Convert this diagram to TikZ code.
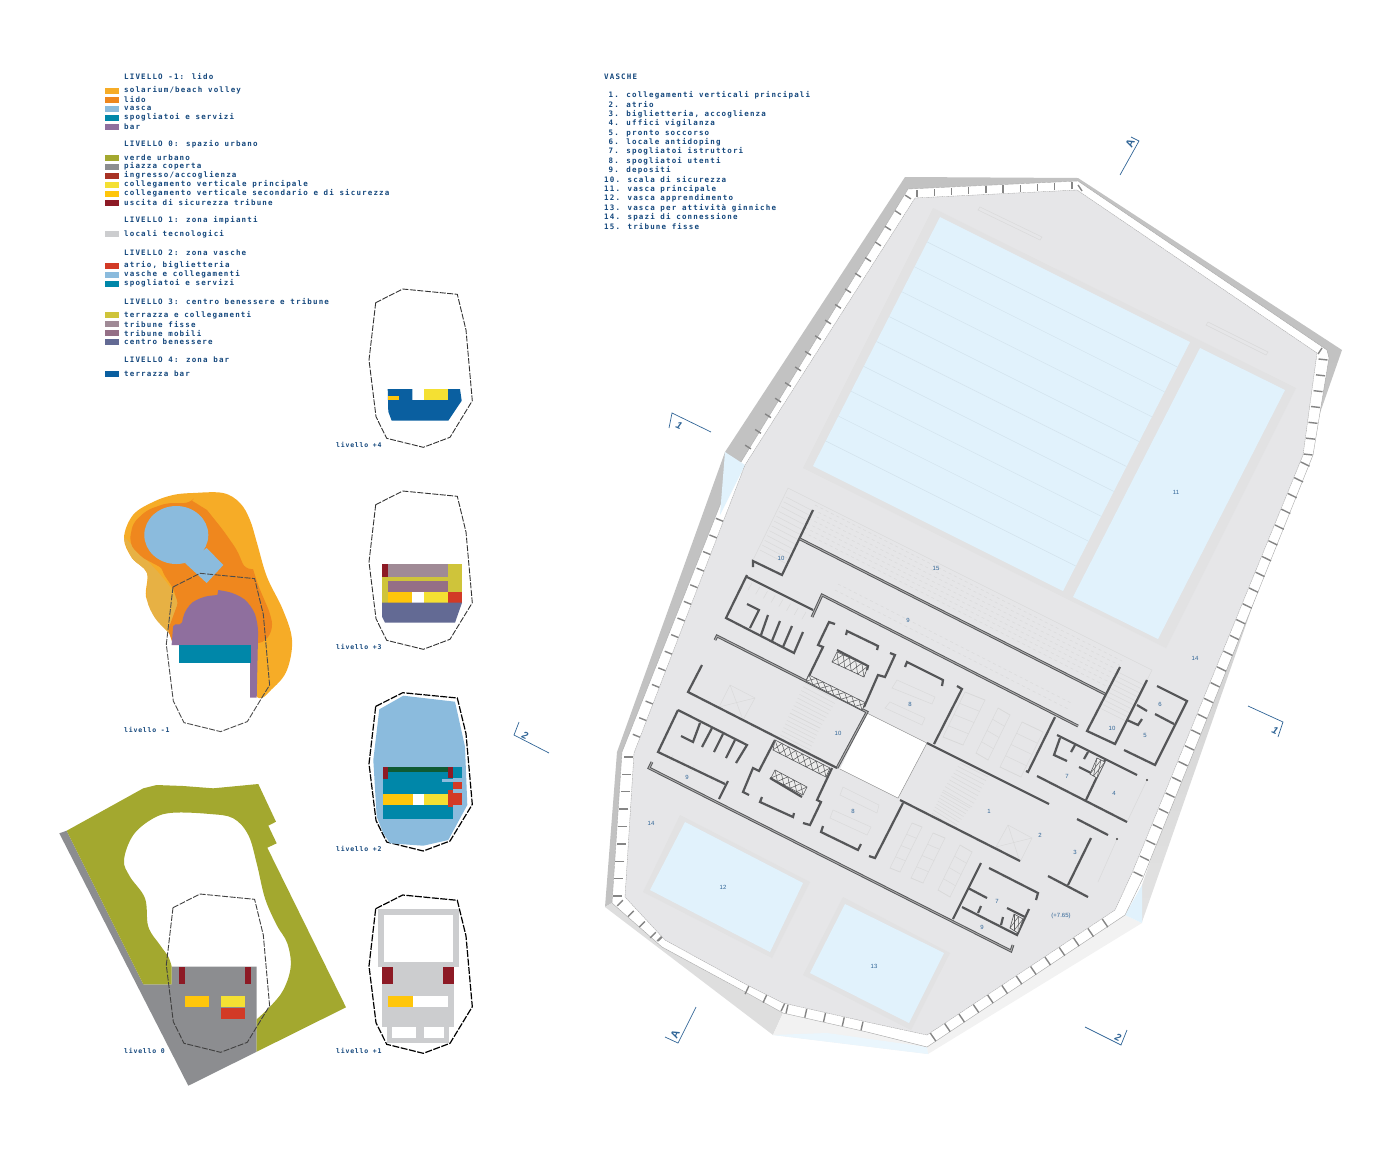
\documentclass[tikz,border=0pt]{standalone}
\usepackage{fontspec}
\setsansfont{Liberation Sans}
\newfontfamily\legfont[LetterSpace=15.4]{DejaVu Sans Mono}
\newfontfamily\lvlfont[LetterSpace=12]{DejaVu Sans Mono}
\usetikzlibrary{calc,positioning}

\definecolor{inkblue}{HTML}{14477C}
\definecolor{secblue}{HTML}{2F6496}
\definecolor{solarium}{HTML}{F6AC27}
\definecolor{solariumb}{HTML}{E7B144}
\definecolor{lido}{HTML}{EF871E}
\definecolor{vasca}{HTML}{8BBBDD}
\definecolor{spogliatoi}{HTML}{0087A9}
\definecolor{barlila}{HTML}{8F6F9E}
\definecolor{verde}{HTML}{A3A82F}
\definecolor{piazza}{HTML}{8C8D90}
\definecolor{ingresso}{HTML}{A83224}
\definecolor{collgiallo}{HTML}{F4E033}
\definecolor{collarancio}{HTML}{FFC60B}
\definecolor{uscita}{HTML}{8D1A25}
\definecolor{tecnici}{HTML}{CCCDCF}
\definecolor{atrio}{HTML}{D23A26}
\definecolor{terrazza}{HTML}{CFC43A}
\definecolor{fisse}{HTML}{A08A96}
\definecolor{mobili}{HTML}{956F86}
\definecolor{benessere}{HTML}{636A94}
\definecolor{barblu}{HTML}{0A5FA0}
\definecolor{pinegreen}{HTML}{0F5A33}
\definecolor{floorgrey}{HTML}{E6E6E8}
\definecolor{framegrey}{HTML}{E2E2E3}
\definecolor{poolblue}{HTML}{E1F2FC}
\definecolor{wallgrey}{HTML}{555658}

\tikzset{
	legtext/.style={anchor=west, inner sep=0pt, text=inkblue, font=\fontsize{7.5}{9}\legfont\bfseries}, % all the small spaced text
	lvltext/.style={anchor=west, inner sep=0pt, text=inkblue, font=\fontsize{6.5}{8}\lvlfont\bfseries},
	swatch/.style={inner sep=0pt, minimum width=14pt, minimum height=6pt},
	footline/.style={draw=black!80, line width=.9pt, dash pattern=on 6pt off 1.5pt},
	footbold/.style={draw=black, line width=1.2pt, dash pattern=on 7pt off 1.5pt},
	band/.style={fill=white, draw=gray!70, line width=.4pt},
	slat/.style={draw=black!48, line width=1.4pt},
	wall/.style={draw=wallgrey, line width=2.2pt},
	wallb/.style={draw=wallgrey, line width=.95pt, double=gray!65, double distance=.9pt},
	fine/.style={draw=black!15, line width=.45pt},
	lane/.style={draw=black!6!poolblue, line width=.5pt},
	num/.style={inner sep=0pt, text=secblue, font=\fontsize{6}{7}\sffamily},
	secline/.style={draw=secblue, line width=.7pt},
	seclabel/.style={inner sep=0pt, text=secblue, font=\fontsize{10}{11}\sffamily\bfseries\itshape},
	seclabelA/.style={inner sep=0pt, text=secblue, font=\fontsize{11}{12}\sffamily\bfseries},
}

% the footprint of the building, repeated next to each level
\def\footprint{(375.7,302.7) -- (402.7,289) -- (457.3,294.3) -- (466,330) -- (472.3,400.7) -- (450,437.3) -- (423.3,447.3) -- (386.7,438.3) -- (376,416.7) -- (369,360) -- cycle}

% lines across two edges: style, first edge, second edge, intervals
\newcommand{\rungs}[6]{
	\foreach \i in {0,...,#6}
		\draw[#1] ($#2!{\i/#6}!#3$) -- ($#4!{\i/#6}!#5$);
}
% cross-braced stair shaft: corners a b c d, number of bays
\newcommand{\xstrip}[5]{
	\draw[draw=wallgrey, line width=.6pt, fill=white!85!gray] #1 -- #2 -- #3 -- #4 -- cycle;
	\foreach \i in {1,...,#5} {
		\draw[draw=wallgrey, line width=.5pt] ($#1!{(\i-1)/#5}!#2$) -- ($#4!{\i/#5}!#3$);
		\draw[draw=wallgrey, line width=.5pt] ($#1!{\i/#5}!#2$) -- ($#4!{(\i-1)/#5}!#3$);
	}
}
\newcommand{\legrow}[4]{
	\node[swatch, fill=#3] (#1sw) at (112,#2) {};
	\node[legtext] (#1) at (124,#2) {#4};
}

\begin{document}
\begin{tikzpicture}[x=1pt, y=-1pt]
	\useasboundingbox (0,0) rectangle (1400,1160);

	% legend
	\node[legtext] (titleA) at (124,76.5) {LIVELLO -1: lido};
	\legrow{solar}{90.5}{solarium}{solarium/beach volley}
	\legrow{lidoA}{99.5}{lido}{lido}
	\legrow{vascaA}{108.5}{vasca}{vasca}
	\legrow{spogA}{117.5}{spogliatoi}{spogliatoi e servizi}
	\legrow{barA}{126.5}{barlila}{bar}
	\node[legtext] (titleB) at (124,144.5) {LIVELLO 0: spazio urbano};
	\legrow{verdeB}{157.5}{verde}{verde urbano}
	\legrow{piazzaB}{166.5}{piazza}{piazza coperta}
	\legrow{ingrB}{175.5}{ingresso}{ingresso/accoglienza}
	\legrow{collB}{184.5}{collgiallo}{collegamento verticale principale}
	\legrow{collC}{193.5}{collarancio}{collegamento verticale secondario e di sicurezza}
	\legrow{uscB}{202.5}{uscita}{uscita di sicurezza tribune}
	\node[legtext] (titleC) at (124,220.5) {LIVELLO 1: zona impianti};
	\legrow{tecC}{234}{tecnici}{locali tecnologici}
	\node[legtext] (titleD) at (124,252.5) {LIVELLO 2: zona vasche};
	\legrow{atrD}{265.5}{atrio}{atrio, biglietteria}
	\legrow{vasD}{274.5}{vasca}{vasche e collegamenti}
	\legrow{spoD}{283.5}{spogliatoi}{spogliatoi e servizi}
	\node[legtext] (titleE) at (124,301.5) {LIVELLO 3: centro benessere e tribune};
	\legrow{terE}{315}{terrazza}{terrazza e collegamenti}
	\legrow{fisE}{324}{fisse}{tribune fisse}
	\legrow{mobE}{333}{mobili}{tribune mobili}
	\legrow{benE}{342}{benessere}{centro benessere}
	\node[legtext] (titleF) at (124,359.5) {LIVELLO 4: zona bar};
	\legrow{barF}{373.5}{barblu}{terrazza bar}

	% room list
	\node[legtext] (listhead) at (604,76.5) {VASCHE};
	\node[legtext] (room1) at (604,95.5) {\phantom{0}1. collegamenti verticali principali};
	\node[legtext] (room2) at (604,104.9) {\phantom{0}2. atrio};
	\node[legtext] (room3) at (604,114.2) {\phantom{0}3. biglietteria, accoglienza};
	\node[legtext] (room4) at (604,123.6) {\phantom{0}4. uffici vigilanza};
	\node[legtext] (room5) at (604,133) {\phantom{0}5. pronto soccorso};
	\node[legtext] (room6) at (604,142.3) {\phantom{0}6. locale antidoping};
	\node[legtext] (room7) at (604,151.7) {\phantom{0}7. spogliatoi istruttori};
	\node[legtext] (room8) at (604,161) {\phantom{0}8. spogliatoi utenti};
	\node[legtext] (room9) at (604,170.4) {\phantom{0}9. depositi};
	\node[legtext] (room10) at (604,179.8) {10. scala di sicurezza};
	\node[legtext] (room11) at (604,189.2) {11. vasca principale};
	\node[legtext] (room12) at (604,198.5) {12. vasca apprendimento};
	\node[legtext] (room13) at (604,207.9) {13. vasca per attività ginniche};
	\node[legtext] (room14) at (604,217.3) {14. spazi di connessione};
	\node[legtext] (room15) at (604,226.7) {15. tribune fisse};

	% level +4
	\draw[footline] \footprint;
	\fill[barblu] (387.7,389) -- (412.3,389) -- (412.3,400) -- (424,400) -- (424,389) -- (460,389) -- (461.7,400.7) -- (448.3,420.7) -- (391.7,420.7) -- (388.3,411.7) -- cycle;
	\fill[collgiallo] (424,389) rectangle (448.3,400);
	\fill[collarancio] (387.7,396) rectangle (399,400);
	\node[lvltext] (lvlfour) at (336,445) {livello +4};

	% level +3
	\draw[footline, shift={(0,202)}] \footprint;
	\fill[terrazza] (382,564) rectangle (462,602.7);
	\fill[uscita] (382,564) rectangle (388,577.3);
	\fill[fisse] (388,564) rectangle (448.3,577.3);
	\fill[mobili] (388,580.7) rectangle (448.3,591.7);
	\fill[collarancio] (388,591.7) rectangle (412.3,602.7);
	\fill[white] (412.3,591.7) rectangle (424,602.7);
	\fill[collgiallo] (424,591.7) rectangle (448.3,602.7);
	\fill[atrio] (448.3,591.7) rectangle (462,602.7);
	\fill[benessere] (382,602.7) -- (462,602.7) -- (455,622.7) -- (385,622.7) -- (382,616.7) -- cycle;
	\node[lvltext] (lvlthree) at (336,647) {livello +3};

	% level +2
	\draw[footbold, shift={(0,403.7)}] \footprint;
	\fill[vasca] (379.3,709.3) -- (403.3,695.7) -- (455,701.7) -- (465,746.7) -- (467.3,805) -- (448.3,840) -- (423.3,845.7) -- (390,843.3) -- (383.3,833.3) -- (376.7,816.7) -- (373.3,760) -- cycle;
	\fill[spogliatoi] (382.7,766.7) rectangle (453.3,819.3);
	\fill[spogliatoi] (453.3,766.7) rectangle (461.7,778.3);
	\fill[pinegreen] (388,766.7) rectangle (448.3,771.7);
	\fill[uscita] (382.7,766.7) rectangle (388,779);
	\fill[uscita] (448.3,766.7) rectangle (453.3,778.3);
	\fill[vasca] (442.3,779) rectangle (461.7,781.7);
	\fill[vasca] (453.3,781.7) rectangle (461.7,793.3);
	\fill[atrio] (453.3,782.3) rectangle (461.7,789.3);
	\fill[atrio] (448.3,790) rectangle (453.3,807.3);
	\fill[atrio] (453.3,793.3) rectangle (461.7,805);
	\fill[collarancio] (382.7,794) rectangle (412.7,805);
	\fill[white] (412.7,794) rectangle (424,805);
	\fill[collgiallo] (424,794) rectangle (448.3,805);
	\node[lvltext] (lvltwo) at (336,849) {livello +2};

	% level +1
	\draw[footbold, shift={(0,606)}] \footprint;
	\fill[tecnici] (377.7,909) rectangle (459,967.3);
	\fill[white] (384,915) rectangle (453.3,962);
	\fill[tecnici] (382,967.3) rectangle (454,1027.3);
	\fill[tecnici] (387,1027.3) rectangle (449,1042.7);
	\fill[white] (392,1027.3) rectangle (416,1037.7);
	\fill[white] (424,1027.3) rectangle (444,1037.7);
	\fill[uscita] (382,967.3) rectangle (393.3,984);
	\fill[uscita] (443.3,967.3) rectangle (454,984);
	\fill[collarancio] (388,995.7) rectangle (412.7,1007.3);
	\fill[white] (412.7,995.7) rectangle (448.3,1007.3);
	\node[lvltext] (lvlone) at (336,1051) {livello +1};

	% level -1
	\fill[solarium] plot[smooth cycle, tension=.6] coordinates {(124,538) (133,515) (153,502) (173,495) (193,493) (223,493) (240,503) (250,520) (257,543) (267,577) (283,610) (292,640) (287,670) (273,688) (257,697) (240,660) (190,640) (170,620) (147,600) (147,573) (132,558)};
	\fill[white] (165,645) rectangle (250,700);
	\fill[solariumb] plot[smooth cycle, tension=.5] coordinates {(124,538) (132,558) (147,573) (147,600) (155,618) (168,632) (178,640) (180,610) (172,590) (158,572) (135,548)};
	\fill[lido, rounded corners=6pt] (130,538) -- (133,523) -- (147,510) -- (167,503) -- (190,503) [sharp corners] -- (192,500.7) -- (207,510) [rounded corners=6pt] -- (223,530) -- (237,550) -- (245,569) [sharp corners] -- (253,569) [rounded corners=6pt] -- (258,585) -- (270,613) -- (273,627) -- (267,640) -- (257,644) [sharp corners] -- (173,644) [rounded corners=3pt] -- (168,630) -- (178,603) -- (173,588) -- (163,573) -- (162,568) -- (143,558) -- (132,547) -- cycle;
	\fill[vasca] (176.3,535) ellipse [x radius=32, y radius=29];
	\fill[vasca] (206.7,548) -- (223.3,565) -- (206.7,583) -- (185,563) -- cycle;
	\fill[barlila, rounded corners=2pt] (171.7,644) -- (173.3,624.3) -- (181.7,624.3) [rounded corners=10pt] -- (185,608) -- (200,596.7) [sharp corners] -- (217.3,595) -- (218.3,590) [rounded corners=10pt] -- (236.7,593.3) -- (251.7,605) -- (258.3,623.3) [sharp corners] -- (256.7,697.7) -- (250,697.7) -- (250,645) -- (171.7,645) -- cycle;
	\fill[spogliatoi] (179,645) rectangle (250.7,662.7);
	\draw[footline, draw=black!70, shift={(-202.7,284.3)}] \footprint;
	\node[lvltext] (lvlminus) at (124,730) {livello -1};

	% level 0
	\fill[piazza] (59.3,833.3) -- (66.7,830.7) -- (143.3,984.3) -- (171.7,984.3) -- (171.7,966.7) -- (256.7,966.7) -- (256.7,1051.7) -- (188.3,1085.7) -- cycle;
	\fill[verde] (66.7,830.7) -- (143.3,788.3) -- (156.7,785) -- (183.3,786) -- (213.3,788.3) -- (258.3,784) -- (276,821.7) -- (268.3,825.7) -- (276.7,843.3) -- (267.3,847.7) -- (346,1007.3) -- (256.7,1051.7) -- (256.7,1019.3) -- plot[smooth, tension=.6] coordinates {(256.7,1019.3) (270,1006.7) (283.3,990) (290.7,966.7) (287.3,943.3) (276.7,925) (265,898.3) (256.7,863.3) (248.3,835) (233.3,818.3) (210,814) (173.3,812.7) (153.3,818.3) (133.3,835) (124,860) (130,876.7) (145,898.3) (148.3,926.7) (160,945) (168.3,956.7) (171.7,966.7)} -- (171.7,984.3) -- (143.3,984.3) -- cycle;
	\fill[uscita] (179,966.7) rectangle (185,984.3);
	\fill[uscita] (245.3,966.7) rectangle (251,984.3);
	\fill[collarancio] (185,996) rectangle (209.3,1007.3);
	\fill[collgiallo] (221,996) rectangle (245.3,1007.3);
	\fill[atrio] (221,1008) rectangle (245.3,1019);
	\draw[footline, draw=black!75, shift={(-202.7,605)}] \footprint;
	\node[lvltext] (lvlzero) at (124,1051) {livello 0};

	% plan: outer wedges
	\fill[black!24] (905,177) -- (1078,178) -- (1342,350) -- (1327,358) -- (1078,181) -- (908,189) -- (730,480) -- (622,752) -- (612,903) -- (605,907) -- (617,752) -- (725,452) -- cycle;
	\shade[top color=black!24, bottom color=black!11] (1342,350) -- (1142,922) -- (1142,885) -- (1327,352) -- cycle;
	\fill[black!5] (1142,923) -- (928,1054) -- (927,1047) -- (1125,915) -- cycle;
	\fill[black!13] (605,907) -- (773,1035) -- (783,1013) -- (662,947) -- (612,903) -- cycle;
	\fill[black!5] (773,1035) -- (783,1013) -- (867,1032) -- (927,1047) -- (928,1054) -- cycle;
	\fill[poolblue!70] (773,1035) -- (827,1033) -- (927,1047) -- (928,1054) -- cycle;
	\fill[poolblue] (1142,885) -- (1142,923) -- (1125,915) -- cycle;

	% plan: facade band and slats
	\draw[band] (908,189) -- (1078,181) -- (1327,350) -- (1329,358) -- (1313,455) -- (1143,878) -- (1125,915) -- (927,1047) -- (867,1032) -- (783,1013) -- (747,993) -- (662,947) -- (612,903) -- (622,752) -- (730,480) -- cycle;
	\fill[poolblue] (725,452) -- (745,465) -- (720,515) -- cycle;
	\rungs{slat}{(917,196.7)}{(1072,189.3)}{(917,189.5)}{(1072,182)}{9}
	\rungs{slat}{(910.9,198.9)}{(750.9,448.9)}{(905.1,195.1)}{(745.1,445.1)}{16}
	\rungs{slat}{(724.2,521.7)}{(641.2,737.7)}{(715.8,518.3)}{(632.8,734.3)}{13}
	\rungs{slat}{(632.5,757)}{(621.5,896)}{(623.5,757)}{(612.5,896)}{8}
	\rungs{slat}{(622.8,900.2)}{(655.8,932.2)}{(617.2,905.8)}{(650.2,937.8)}{3}
	\rungs{slat}{(661.8,936.2)}{(662.8,936.2)}{(657.2,941)}{(658.2,941)}{1}
	\rungs{slat}{(748.9,985.9)}{(784.9,1002.9)}{(745.1,994.1)}{(781.1,1011.1)}{2}
	\rungs{slat}{(788,1004.6)}{(863,1021.6)}{(786,1013.4)}{(861,1030.4)}{4}
	\rungs{slat}{(930.2,1032.9)}{(1102.2,918.9)}{(935.8,1041.1)}{(1107.8,927.1)}{12}
	\rungs{slat}{(1133.5,871.8)}{(1300.5,461.8)}{(1142.5,876.2)}{(1309.5,466.2)}{26}
	\rungs{slat}{(1303.5,454)}{(1318.5,359)}{(1312.5,455)}{(1327.5,360)}{6}
	\draw[slat] (1082,191) -- (1078,185);
	\draw[slat] (1318,354) -- (1322,348);

	% plan: floor and pools
	\fill[floorgrey] (915,198) -- (1077,190) -- (1317,353) -- (1303,455) -- (1132,873) -- (1115,910) -- (927,1035) -- (867,1022) -- (783,1003) -- (747,985) -- (665,940) -- (625,897) -- (634,753) -- (745,465) -- cycle;
	\draw[gray!70, line width=.35pt, dash pattern=on 1.6pt off .6pt] (915,198) -- (1077,190) -- (1317,353) -- (1303,455) -- (1132,873) -- (1115,910) -- (927,1035) -- (867,1022) -- (783,1003) -- (747,985) -- (665,940) -- (625,897) -- (634,753) -- (745,465) -- cycle;
	\fill[framegrey] (933,208) -- (1296,388) -- (1166,648) -- (803,468) -- cycle;
	\fill[poolblue] (940,217) -- (1190,342) -- (1063,591) -- (813,466) -- cycle;
	\fill[poolblue] (1200,348) -- (1285,390) -- (1158,639) -- (1073,597) -- cycle;
	\rungs{lane}{(927.3,242)}{(825.7,441)}{(1177.3,367)}{(1075.7,566)}{8}
	\fill[framegrey] (680,815) -- (810,882) -- (772,958) -- (643,892) -- cycle;
	\fill[poolblue] (685,822) -- (803,883) -- (770,952) -- (650,890) -- cycle;
	\fill[framegrey] (843,897) -- (950,953) -- (911,1030) -- (803,975) -- cycle;
	\fill[poolblue] (845,904) -- (944,953) -- (909,1023) -- (810,973) -- cycle;
	\draw[fine] (980,207) -- (1042,237) -- (1040,240) -- (978,210) -- cycle;
	\draw[fine] (1208,322) -- (1268,352) -- (1266,355) -- (1206,325) -- cycle;

	% plan: central void
	\fill[white] (867,713) -- (927,743) -- (898,798) -- (840,769) -- cycle;
	\draw[fine, draw=black!45] (840,769) -- (898,798) -- (927,743) -- (867,713);

	% plan: faint drawing under the walls
	\draw[fine] (753,560) -- (788,488) -- (1152,670) -- (1125,725);
	\rungs{fine, dashed}{(815,505)}{(803,532)}{(1122,661)}{(1110,688)}{6}
	\rungs{fine, dashed}{(835,590)}{(838,584)}{(1070,710)}{(1073,704)}{1}
	\rungs{fine}{(786,497)}{(760,550)}{(811,510)}{(785,563)}{11}
	\rungs{fine}{(1118,672)}{(1100,708)}{(1144,685)}{(1126,721)}{9}
	\rungs{fine}{(805,683)}{(790,713)}{(837,700)}{(820,728)}{8}
	\rungs{fine}{(790,713)}{(777,742)}{(820,728)}{(807,757)}{8}
	\rungs{fine}{(960,763)}{(943,790)}{(988,777)}{(972,807)}{8}
	\rungs{fine}{(942,792)}{(932,813)}{(970,808)}{(955,828)}{7}
	\rungs{fine}{(752,583)}{(806,612)}{(748,590)}{(802,619)}{7}
	\rungs{fine}{(673,755)}{(725,781)}{(670,761)}{(722,787)}{5}
	\draw[fine] (730,685) -- (755,698) -- (743,720) -- (719,707) -- cycle (730,685) -- (743,720) (755,698) -- (719,707);
	\draw[fine] (1008,825) -- (1032,838) -- (1020,862) -- (996,847) -- cycle (1008,825) -- (1020,862) (1032,838) -- (996,847);
	\foreach \a/\b/\c/\d in {965/692/985/700, 998/708/1010/715, 1022/722/1043/732, 912/823/922/827, 933/833/945/838, 960/845/972/852} {
		\draw[fine] (\a,\b) -- (\c,\d) -- ($(\c,\d)+(-22,45)$) -- ($(\a,\b)+(-22,45)$) -- cycle;
		\rungs{fine}{(\a,\b)}{($(\a,\b)+(-22,45)$)}{(\c,\d)}{($(\c,\d)+(-22,45)$)}{4}
	}
	\draw[fine] (897,680) -- (935,697) -- (932,704) -- (892,688) -- cycle;
	\draw[fine] (890,702) -- (925,718) -- (922,725) -- (885,708) -- cycle;
	\draw[fine] (843,787) -- (879,805) -- (877,813) -- (840,795) -- cycle;
	\draw[fine] (833,810) -- (871,827) -- (867,835) -- (830,818) -- cycle;
	\draw[fine] (1147,780) -- (1127,822);
	\draw[fine] (1117,839) -- (1098,882);

	% plan: walls
	\draw[wall] (813,510) -- (782,575) -- (753,561) -- (753,567);
	\draw[wallb] (800,539) -- (1105,694);
	\draw[wall] (747,575) -- (726,618) -- (794,653) -- (803,632);
	\draw[wall] (747,577) -- (813,610);
	\draw[wallb] (812,617) -- (822,595) -- (1078,726);
	\draw[wall] (747,604) -- (759,610) -- (750,628);
	\draw[wall] (768,615) -- (761,635);
	\draw[wall] (780,621) -- (772,641);
	\draw[wall] (792,626) -- (783,647);
	\draw[wallb] (715,640) -- (717,636) -- (867,712) -- (837,768);
	\draw[wall] (835,624) -- (829,622) -- (818,645) -- (823,647) -- (807,680);
	\xstrip{(809,675)}{(866,703)}{(862,710)}{(806,681)}{8}
	\xstrip{(837,652)}{(868,666)}{(864,677)}{(832,662)}{5}
	\draw[wall] (837,650) -- (868,666) -- (867,670);
	\draw[wall] (846,635) -- (847,631) -- (878,646) -- (877,650);
	\draw[wall] (890,653) -- (895,655) -- (885,677) -- (878,675) -- (864,707);
	\draw[wall] (905,667) -- (907,662) -- (943,680) -- (942,686);
	\draw[wall] (957,686) -- (962,689) -- (934,744);
	\draw[wall] (927,743) -- (1049,804);
	\draw[wall] (1055,717) -- (1028,772) -- (1026,771);
	\draw[wall] (1120,667) -- (1087,731) -- (1115,744) -- (1147,680);
	\draw[wall] (1157,686) -- (1187,701) -- (1155,765) -- (1124,750);
	\draw[wall] (1155,714) -- (1174,724);
	\draw[wall] (1137,705) -- (1147,711);
	\draw[wall] (1127,720) -- (1138,725) -- (1142,719);
	\draw[wall] (1057,735) -- (1137,775);
	\draw[wall] (1060,738) -- (1054,755) -- (1067,761);
	\draw[wall] (1075,745) -- (1071,752);
	\draw[wall] (1088,752) -- (1084,759);
	\draw[wall] (1105,760) -- (1086,800);
	\draw[wall] (1079,767) -- (1095,775);
	\xstrip{(1097,758)}{(1105,762)}{(1097,778)}{(1090,774)}{2}
	\draw[wall] (1037,776) -- (1127,822);
	\draw[wall] (1077,819) -- (1108,835);
	\draw[wall] (1091,838) -- (1068,885);
	\draw[wall] (1048,876) -- (1088,897);
	\fill[black!75] (1147,780) circle (1.2);
	\fill[black!75] (1117,839) circle (1.2);
	\draw[wall] (900,800) -- (1020,861);
	\draw[wall] (903,803) -- (875,858) -- (869,856);
	\draw[wall] (981,863) -- (953,919);
	\draw[wall] (989,868) -- (1038,893) -- (1036,900);
	\draw[wall] (968,888) -- (987,898);
	\draw[wall] (962,907) -- (1017,935) -- (1029,909);
	\draw[wall] (981,906) -- (978,913);
	\draw[wall] (1003,917) -- (1001,925);
	\draw[wall] (1007,908) -- (1025,917);
	\xstrip{(1014,914)}{(1023,919)}{(1018,933)}{(1010,928)}{2}
	\draw[wallb] (652,762) -- (649,768) -- (1011,951) -- (1013,945);
	\draw[wall] (702,665) -- (688,692) -- (837,768);
	\draw[wall] (678,710) -- (658,752) -- (725,784);
	\draw[wall] (678,710) -- (747,745) -- (736,763);
	\draw[wall] (728,781) -- (719,799);
	\draw[wall] (681,736) -- (693,742) -- (700,723);
	\draw[wall] (712,728) -- (702,747);
	\draw[wall] (723,734) -- (714,752);
	\draw[wall] (735,740) -- (726,758);
	\draw[wall] (775,740) -- (759,771) -- (753,768) -- (743,792) -- (749,795);
	\xstrip{(775,740)}{(830,768)}{(826,777)}{(773,750)}{8}
	\draw[wall] (832,768) -- (817,800) -- (821,802) -- (810,825) -- (803,823);
	\xstrip{(775,770)}{(807,787)}{(803,795)}{(771,778)}{5}
	\draw[wall] (770,778) -- (802,797);
	\draw[wall] (762,797) -- (760,802) -- (793,817) -- (794,813);
	\draw[wall] (823,826) -- (821,832) -- (858,850) -- (861,844);

	% plan: room numbers
	\node[num] (n10a) at (781,558) {10};
	\node[num] (n15) at (936,568) {15};
	\node[num] (n9a) at (908,620) {9};
	\node[num] (n8a) at (910,704) {8};
	\node[num] (n10b) at (838,733) {10};
	\node[num] (n9b) at (687,777) {9};
	\node[num] (n14a) at (651,823) {14};
	\node[num] (n8b) at (853,811) {8};
	\node[num] (n1) at (989,811) {1};
	\node[num] (n2) at (1040,835) {2};
	\node[num] (n3) at (1075,852) {3};
	\node[num] (n7a) at (1067,776) {7};
	\node[num] (n4) at (1114,793) {4};
	\node[num] (n5) at (1145,735) {5};
	\node[num] (n6) at (1160,704) {6};
	\node[num] (n10c) at (1112,728) {10};
	\node[num] (n14b) at (1195,658) {14};
	\node[num] (n11) at (1176,492) {11};
	\node[num] (n12) at (723,887) {12};
	\node[num] (n13) at (874,966) {13};
	\node[num] (n7b) at (997,901) {7};
	\node[num] (n9c) at (982,927) {9};
	\node[num] (level) at (1061,916) {(+7.65)};

	% section marks
	\draw[secline] (1120,175) -- (1139,141) -- (1131,137);
	\node[seclabelA, rotate=65] (secAa) at (1130,143) {A};
	\draw[secline] (696,1007) -- (678,1043) -- (665,1037);
	\node[seclabelA, rotate=65] (secAb) at (675,1034) {A};
	\draw[secline] (711,432) -- (672,413) -- (669,428);
	\node[seclabel, rotate=-25] (secBa) at (679,426) {1};
	\draw[secline] (1248,706) -- (1283,722) -- (1278,737);
	\node[seclabel, rotate=-25] (secBb) at (1275,731) {1};
	\draw[secline] (549,753) -- (514,735) -- (519,722);
	\node[seclabel, rotate=-25] (secCa) at (525,735) {2};
	\draw[secline] (1085,1027) -- (1121,1045) -- (1127,1030);
	\node[seclabel, rotate=-25] (secCb) at (1118,1037) {2};
\end{tikzpicture}
\end{document}
